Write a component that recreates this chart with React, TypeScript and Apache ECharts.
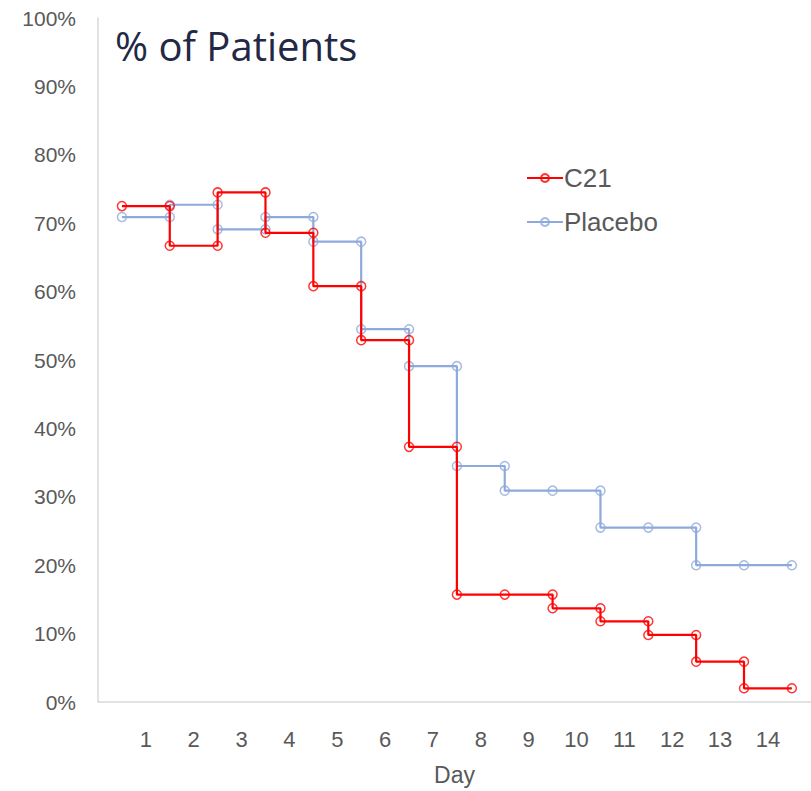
import React, { useEffect, useRef } from "react";
import * as echarts from "echarts";

// Day boundaries (x) and % of patients (y) for the step curves
const c21X = [0.5, 1.5, 1.5, 2.5, 2.5, 3.5, 3.5, 4.5, 4.5, 5.5, 5.5, 6.5, 6.5, 7.5, 7.5, 8.5, 9.5, 9.5, 10.5, 10.5, 11.5, 11.5, 12.5, 12.5, 13.5, 13.5, 14.5];
const c21Y = [0.725, 0.725, 0.667, 0.667, 0.745, 0.745, 0.686, 0.686, 0.608, 0.608, 0.529, 0.529, 0.373, 0.373, 0.157, 0.157, 0.157, 0.137, 0.137, 0.118, 0.118, 0.098, 0.098, 0.059, 0.059, 0.02, 0.02];
const placeboX = [0.5, 1.5, 1.5, 2.5, 2.5, 3.5, 3.5, 4.5, 4.5, 5.5, 5.5, 6.5, 6.5, 7.5, 7.5, 8.5, 8.5, 9.5, 10.5, 10.5, 11.5, 12.5, 12.5, 13.5, 14.5];
const placeboY = [0.709, 0.709, 0.727, 0.727, 0.691, 0.691, 0.709, 0.709, 0.673, 0.673, 0.545, 0.545, 0.491, 0.491, 0.345, 0.345, 0.309, 0.309, 0.309, 0.255, 0.255, 0.255, 0.2, 0.2, 0.2];
const seriesNames = ["C21", "Placebo"];
const dayTicks = [1, 2, 3, 4, 5, 6, 7, 8, 9, 10, 11, 12, 13, 14];

const labelFont = "'Liberation Sans', Arial, sans-serif";

export default function App() {
  const ref = useRef<HTMLDivElement>(null);
  useEffect(() => {
    document.body.style.margin = "0";
    const chart = echarts.init(ref.current!, null, { renderer: "svg" });
    const zip = (xs: number[], ys: number[]) => xs.map((x, i) => [x, ys[i]]);
    chart.setOption({
      animation: false,
      backgroundColor: "#ffffff",
      title: {
        text: "% of Patients",
        left: 110,
        top: 20,
        textStyle: {
          fontFamily: "'Open Sans', sans-serif",
          fontSize: 40,
          fontWeight: "normal",
          color: "#222845",
        },
      },
      legend: {
        orient: "vertical",
        left: 521,
        top: 160,
        itemWidth: 36,
        itemHeight: 10,
        itemGap: 18,
        data: seriesNames,
        textStyle: { fontFamily: labelFont, fontSize: 26, color: "#595959", padding: [0, 0, 0, -4] },
      },
      grid: { left: 98, right: 0, top: 18, bottom: 88 },
      xAxis: {
        type: "value",
        min: 0,
        max: 14.9,
        interval: 1,
        name: "Day",
        nameLocation: "middle",
        nameGap: 61,
        nameTextStyle: { fontFamily: labelFont, fontSize: 23, color: "#595959" },
        axisLine: { show: true, lineStyle: { color: "#D9D9D9", width: 1.5 } },
        axisTick: { show: false },
        splitLine: { show: false },
        axisLabel: {
          margin: 26,
          fontFamily: labelFont,
          fontSize: 22,
          color: "#595959",
          showMaxLabel: false,
          formatter: (v: number) => (dayTicks.includes(v) ? String(v) : ""),
        },
      },
      yAxis: {
        type: "value",
        min: 0,
        max: 1,
        interval: 0.1,
        axisLine: { show: true, lineStyle: { color: "#D9D9D9", width: 1.5 } },
        axisTick: { show: false },
        splitLine: { show: false },
        axisLabel: {
          margin: 22,
          fontFamily: labelFont,
          fontSize: 21,
          color: "#595959",
          formatter: (v: number) => Math.round(v * 100) + "%",
        },
      },
      series: [
        {
          name: seriesNames[0],
          type: "line",
          data: zip(c21X, c21Y),
          color: "#FF0000",
          lineStyle: { width: 2.2, color: "#FF0000" },
          symbol: "circle",
          symbolSize: 9,
          itemStyle: { color: "rgba(255,255,255,0)", borderColor: "#FF0000", borderWidth: 1.5, opacity: 0.8 },
          z: 3,
        },
        {
          name: seriesNames[1],
          type: "line",
          data: zip(placeboX, placeboY),
          color: "#8EA9DB",
          lineStyle: { width: 2.2, color: "#8EA9DB" },
          symbol: "circle",
          symbolSize: 9,
          itemStyle: { color: "rgba(255,255,255,0)", borderColor: "#8EA9DB", borderWidth: 1.5, opacity: 0.8 },
          z: 2,
        },
      ],
    });
    return () => chart.dispose();
  }, []);
  return <div ref={ref} style={{ width: 811, height: 791 }} />;
}
